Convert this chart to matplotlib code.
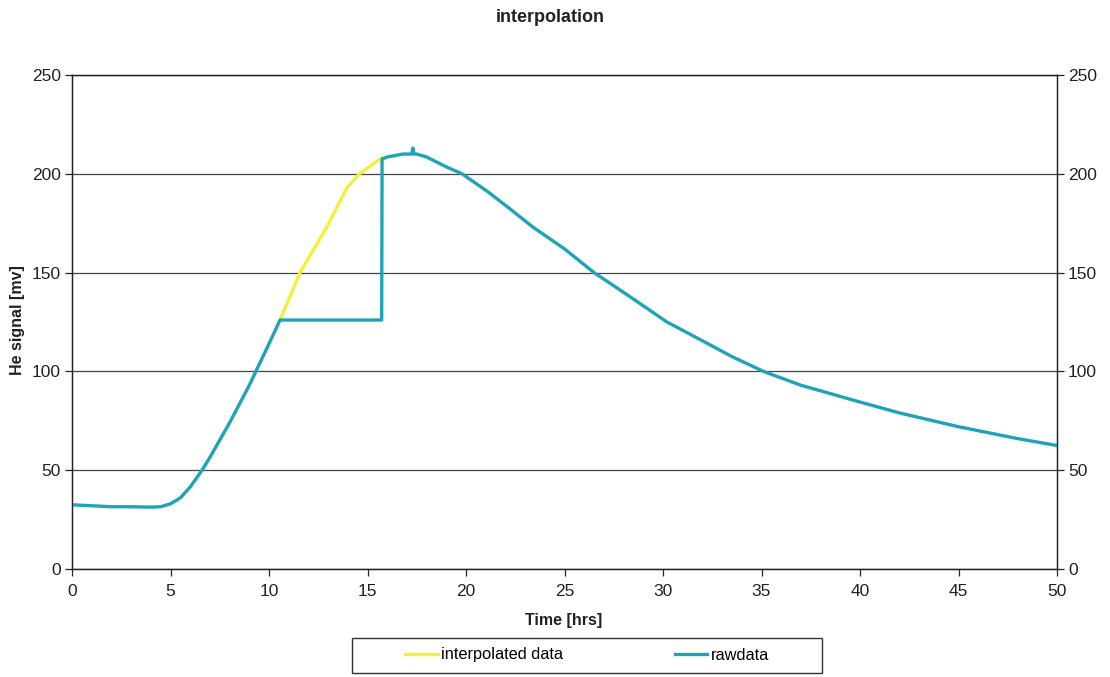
import matplotlib
matplotlib.use("Agg")
import matplotlib.pyplot as plt
from matplotlib.patches import Rectangle

plt.rcParams['font.family'] = ['Liberation Sans', 'DejaVu Sans']

# raw detector trace (hours, mV)
raw_t = [0, 1, 2, 3, 4, 4.5, 5, 5.5, 6, 6.6, 7, 8, 9, 10, 10.56,
         15.72, 15.74, 16, 16.8, 17.25, 17.3, 17.35, 17.5, 18, 19, 19.8,
         21.1, 22.2, 23.4, 25, 26.5, 28, 30.2, 32, 33.5, 35.1, 37, 40, 42, 45,
         48, 50]
raw_v = [32.5, 32, 31.5, 31.5, 31.3, 31.5, 33, 36, 41.5, 50, 56.5, 74, 93, 114, 126,
         126, 207.5, 208.5, 210, 210, 213, 210, 210, 208.5, 203.5, 200,
         191, 182.5, 173, 162, 150, 140, 125, 115.5, 107.5, 100, 93, 84.5, 79, 72,
         66, 62.5]

# interpolated section bridging the gap
interp_t = [10.56, 11.57, 12.9, 13.96, 14.6, 15.7]
interp_v = [126, 150, 172.5, 193, 200, 208]

x_ticks = list(range(0, 51, 5))
y_ticks = list(range(0, 251, 50))

raw_color = '#1ea3b7'
interp_color = '#f2f03a'

fig = plt.figure(figsize=(11.1, 6.77), dpi=100)
ax = fig.add_axes([72 / 1110, 1 - 569 / 677, (1057 - 72) / 1110, (569 - 75) / 677])

ax.plot(interp_t, interp_v, color=interp_color, lw=2.4, label='interpolated data', zorder=3)
ax.plot(raw_t, raw_v, color=raw_color, lw=2.4, label='rawdata', zorder=4)

ax.set_xlim(0, 50)
ax.set_ylim(0, 250)
ax.set_xticks(x_ticks)
ax.set_yticks(y_ticks)
ax.yaxis.grid(True, color='#444444', lw=0.9)
ax.set_axisbelow(True)
for s in ax.spines.values():
    s.set_color('#222222')
    s.set_linewidth(1.0)
ax.tick_params(direction='out', length=5, width=0.9, labelsize=12.5, pad=3, colors='#222222')
ax.tick_params(axis='x', pad=6)

ax2 = ax.twinx()
ax2.set_ylim(0, 250)
ax2.set_yticks(y_ticks)
ax2.tick_params(direction='out', length=5, width=0.9, labelsize=12.5, pad=3, colors='#222222')
for s in ax2.spines.values():
    s.set_color('#222222')

fig.text(550 / 1110, 1 - 17 / 677, 'interpolation', ha='center', va='center',
         fontsize=13, fontweight='bold', color='#222222')
fig.text(564 / 1110, 1 - 620 / 677, 'Time [hrs]', ha='center', va='center',
         fontsize=11.5, fontweight='bold', color='#222222')
fig.text(18 / 1110, 1 - 320 / 677, 'He signal [mv]', ha='center', va='center',
         rotation=90, fontsize=11.5, fontweight='bold', color='#222222')

# legend box below the axis title
fig.patches.append(Rectangle((352 / 1110, 1 - 673 / 677), 470 / 1110, 35 / 677,
                             transform=fig.transFigure, fill=False,
                             edgecolor='#333333', lw=1.0))
handles, labels = ax.get_legend_handles_labels()
fig.legend(handles, labels, loc='center', bbox_to_anchor=(587 / 1110, 1 - 655 / 677),
           ncol=2, frameon=False, fontsize=11.8, handlelength=2.0,
           handletextpad=0.2, columnspacing=6.8)

fig.savefig('out.png', dpi=100)
